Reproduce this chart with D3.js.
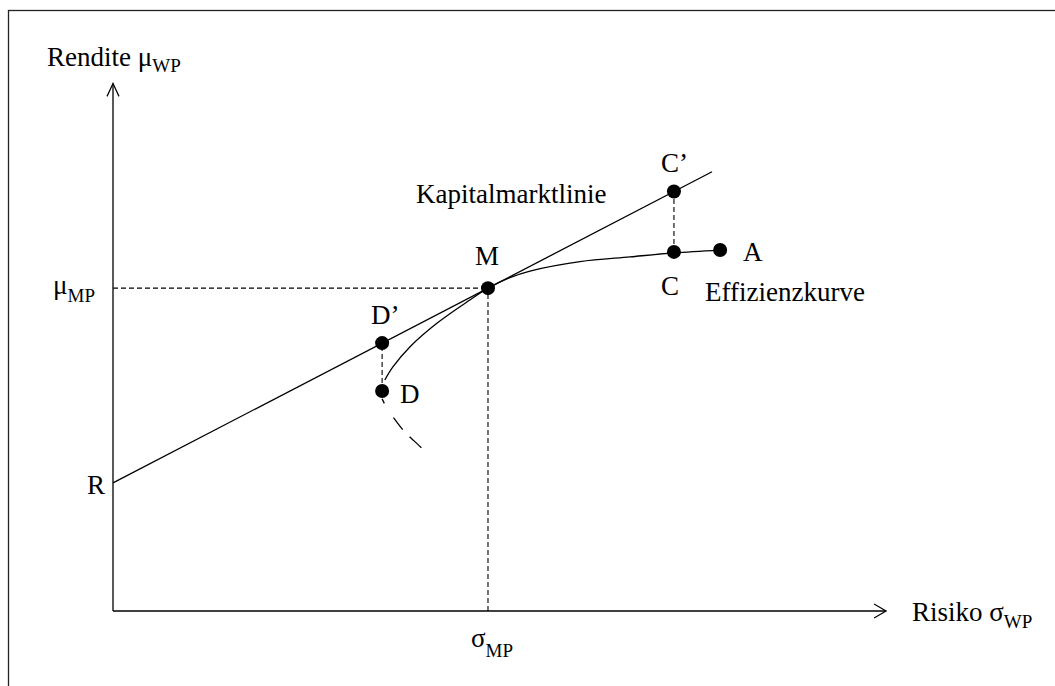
<!DOCTYPE html>
<html><head><meta charset="utf-8">
<script src="https://cdn.jsdelivr.net/npm/d3@7/dist/d3.min.js"></script>
<style>body{margin:0;background:#fff}svg{display:block}text{font-family:"Liberation Serif","Times New Roman",serif;fill:#000}</style>
</head><body>
<script>
// ---- data (sigma = risk, mu = return) ----
const riskFreeRate = 4.88;
const marketPoint = {name: "M", sigma: 9.74, mu: 12.30};
const cmlEndSigma = 15.56;
const frontierSigma = [7.06, 7.27, 7.71, 8.42, 9.27, 9.74, 10.31, 10.83, 12.13, 13.43, 14.57, 15.77];
const frontierMu    = [8.80, 9.30, 10.06, 10.97, 11.85, 12.30, 12.70, 12.95, 13.31, 13.49, 13.64, 13.75];
const lowerSigma = [6.99, 7.14, 7.35, 7.58, 7.82, 8.10];
const lowerMu    = [8.08, 7.66, 7.24, 6.82, 6.48, 6.10];
const portfolioNames = ["C", "A", "D"];
const portfolioSigma = [14.57, 15.77, 6.99];
const portfolioMu    = [13.68, 13.75, 8.38];
const projected = ["C", "D"]; // projected onto capital market line -> C', D'

const W = 1055, H = 686;
const svg = d3.select("body").append("svg").attr("width", W).attr("height", H);
const x = d3.scaleLinear().domain([0, 20]).range([113, 883]);
const y = d3.scaleLinear().domain([0, 20]).range([611, 86]);
const cml = s => riskFreeRate + (marketPoint.mu - riskFreeRate) / marketPoint.sigma * s;

// frame
svg.append("rect").attr("x", 8.5).attr("y", 10.5).attr("width", 1100).attr("height", 700)
  .attr("fill", "none").attr("stroke", "#222").attr("stroke-width", 1.3);

const line = d3.line().x(d => x(d[0])).y(d => y(d[1]));

// axes
svg.append("path").attr("d", line([[0, 0], [0, 20.1]])).attr("stroke", "#000").attr("stroke-width", 1.3).attr("fill", "none");
svg.append("path").attr("d", line([[0, 0], [20.08, 0]])).attr("stroke", "#000").attr("stroke-width", 1.3).attr("fill", "none");
// arrow heads
const yTop = y(20.1), xEnd = x(20.08);
svg.append("path").attr("d", `M${x(0)-6},${yTop+13}L${x(0)},${yTop}L${x(0)+6},${yTop+13}`).attr("stroke", "#000").attr("stroke-width", 1.2).attr("fill", "none");
svg.append("path").attr("d", `M${xEnd-12},${y(0)-7}L${xEnd},${y(0)}L${xEnd-12},${y(0)+7}`).attr("stroke", "#000").attr("stroke-width", 1.2).attr("fill", "none");

// dashed guides to M
const guide = {stroke: "#000", "stroke-width": 1.1, "stroke-dasharray": "5,3", fill: "none"};
function applyAttrs(sel, a){ for (const k in a) sel.attr(k, a[k]); return sel; }
applyAttrs(svg.append("path").attr("d", line([[0, marketPoint.mu], [marketPoint.sigma, marketPoint.mu]])), guide);
applyAttrs(svg.append("path").attr("d", line([[marketPoint.sigma, 0], [marketPoint.sigma, marketPoint.mu]])), guide);

// vertical dashed between portfolio and projection
projected.forEach(n => {
  const i = portfolioNames.indexOf(n);
  const s = portfolioSigma[i];
  applyAttrs(svg.append("path").attr("d", line([[s, portfolioMu[i]], [s, cml(s)]])), guide);
});

// capital market line
svg.append("path").attr("d", line([[0, riskFreeRate], [cmlEndSigma, cml(cmlEndSigma)]]))
  .attr("stroke", "#000").attr("stroke-width", 1.3).attr("fill", "none");

// efficient frontier
const curve = d3.line().x(d => x(d[0])).y(d => y(d[1])).curve(d3.curveCatmullRom.alpha(0.5));
svg.append("path").attr("d", curve(frontierSigma.map((s, i) => [s, frontierMu[i]])))
  .attr("stroke", "#000").attr("stroke-width", 1.3).attr("fill", "none");
svg.append("path").attr("d", curve(lowerSigma.map((s, i) => [s, lowerMu[i]])))
  .attr("stroke", "#000").attr("stroke-width", 1.3).attr("fill", "none")
  .attr("stroke-dasharray", "5,17,15,10,16,20");

// points
const dots = [[marketPoint.sigma, marketPoint.mu]];
portfolioSigma.forEach((s, i) => dots.push([s, portfolioMu[i]]));
projected.forEach(n => { const s = portfolioSigma[portfolioNames.indexOf(n)]; dots.push([s, cml(s)]); });
svg.selectAll("circle.pt").data(dots).join("circle").attr("class", "pt")
  .attr("cx", d => x(d[0])).attr("cy", d => y(d[1])).attr("r", 7).attr("fill", "#000");

// labels
const FS = 27, SUB = 19;
function label(px, py, main, sub, subDy) {
  const t = svg.append("text").attr("x", px).attr("y", py).attr("font-size", FS);
  t.append("tspan").text(main);
  if (sub) t.append("tspan").attr("font-size", SUB).attr("dy", subDy || 7).text(sub);
  return t;
}
label(47, 66, "Rendite μ", "WP", 6);
label(53, 294, "μ", "MP", 8);
label(87, 494, "R");
label(471, 647, "σ", "MP", 10);
label(912, 621, "Risiko σ", "WP", 7);
label(416, 203, "Kapitalmarktlinie");
label(475, 265, marketPoint.name);
label(661, 172, "C’");
label(661, 295, "C");
label(743, 261, "A");
label(705, 301, "Effizienzkurve");
label(371, 324, "D’");
label(400, 403, "D");
</script>
</body></html>
